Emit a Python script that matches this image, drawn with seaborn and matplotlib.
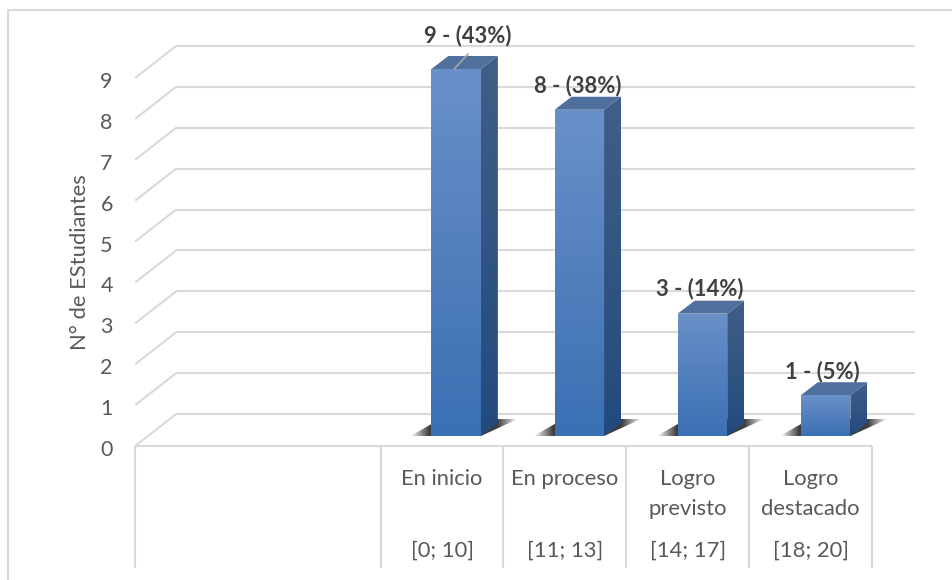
import numpy as np
import matplotlib
matplotlib.use("Agg")
import matplotlib.pyplot as plt
from matplotlib.colors import LinearSegmentedColormap, to_rgb
from matplotlib.lines import Line2D
from matplotlib.patches import Polygon
from matplotlib.transforms import Affine2D
import pandas as pd
import seaborn as sns

# ---- data ----
slots = ["a", "b", "En inicio", "En proceso", "Logro\nprevisto", "Logro\ndestacado"]
values = [np.nan, np.nan, 9, 8, 3, 1]
percents = [None, None, 43, 38, 14, 5]
ranges = ["", "", "[0; 10]", "[11; 13]", "[14; 17]", "[18; 20]"]
y_ticks = list(range(10))
y_label = "N° de EStudiantes"

# ---- layout constants (pixels) ----
W, H = 953, 580
DPI = 100
GRID = "#d9d9d9"
TXT = "#595959"
BOLD = "#404040"
FONT = "Lato"

sns.set_theme(style="white")
plt.rcParams["font.family"] = [FONT, "DejaVu Sans"]


def axes_rect(left, right, bottom, top):
    return [left / W, (H - bottom) / H, (right - left) / W, (bottom - top) / H]


fig = plt.figure(figsize=(W / DPI, H / DPI), dpi=DPI, facecolor="white")

# front plane: floor edge, category table, tick labels
PXF_Y = 40.9
af = fig.add_axes(axes_rect(135, 872, 446, 446 - 10 * PXF_Y), facecolor="none")
af.set_xlim(-0.5, 5.5)
af.set_ylim(0, 10)
for s in af.spines.values():
    s.set_visible(False)
af.set_yticks(y_ticks)
af.set_yticklabels([str(t) for t in y_ticks], fontsize=15.5, color=TXT)
af.tick_params(axis="y", length=0, pad=16)
af.set_xticks(range(6))
af.set_xticklabels(["", ""] + slots[2:], fontsize=15.8, color=TXT, linespacing=1.62,
                   va="top")
af.tick_params(axis="x", length=0, pad=16.5)
for lab in af.get_yticklabels():
    lab.set_va("center")
    lab.set_transform(lab.get_transform() + Affine2D().translate(0, -4))
af.set_ylabel(y_label, fontsize=15.8, color=TXT, va="center")
af.yaxis.set_label_coords((80 - 135) / 737, (446 - 262) / (10 * PXF_Y))

cell_drop = 122 / PXF_Y
af.plot([-0.5, 5.5], [0, 0], color=GRID, lw=1.5, clip_on=False, solid_capstyle="butt")
for edge in [-0.5, 1.5, 2.5, 3.5, 4.5, 5.5]:
    af.plot([edge, edge], [0, -cell_drop], color=GRID, lw=1.5, clip_on=False,
            solid_capstyle="butt")
for i, r in enumerate(ranges):
    if r:
        af.annotate(r, xy=(i, 0), xytext=(0, -105), textcoords="offset pixels",
                    ha="center", va="center", fontsize=15.8, color=TXT)

# bar plane
PXB_X = 123.17
PXB_Y = 40.78
am = fig.add_axes(axes_rect(148.2, 887.2, 436, 436 - 10 * PXB_Y), facecolor="none")
df = pd.DataFrame({"slot": slots, "value": values})
sns.barplot(data=df, x="slot", y="value", order=slots, ax=am, width=49.5 / PXB_X,
            color="#4a7dbd", saturation=1, linewidth=0, zorder=4)
am.set_xlim(-0.5, 5.5)
am.set_ylim(0, 10)
am.set_xlabel("")
am.set_ylabel("")
am.set_xticks([])
am.set_yticks([])
am.patch.set_visible(False)
for s in am.spines.values():
    s.set_visible(False)

# back wall + side wall grid, expressed relative to the bar plane
bx, by = 28 / PXB_X, 22 / PXB_Y            # bar plane -> back wall
fx, fy = -13 / PXB_X, -10 / PXB_Y           # bar plane -> front edge
for t in y_ticks:
    yb = t * PXF_Y / PXB_Y + by
    yf = t * PXF_Y / PXB_Y + fy
    am.plot([-0.5 + bx, 5.5 + bx], [yb, yb], color=GRID, lw=1.5, clip_on=False,
            zorder=1, solid_capstyle="butt")
    am.plot([-0.5 + fx, -0.5 + bx], [yf, yb], color=GRID, lw=1.5, clip_on=False,
            zorder=1, solid_capstyle="butt")


def vgrad(top, bottom):
    return LinearSegmentedColormap.from_list("g", [bottom, top])


def fill_clipped(ax, poly, cmap, z, extent=None):
    ax.add_patch(poly)
    xs, ys = poly.get_xy()[:, 0], poly.get_xy()[:, 1]
    ext = extent or [xs.min(), xs.max(), ys.min(), ys.max()]
    im = ax.imshow(np.linspace(0, 1, 256).reshape(-1, 1), origin="lower", cmap=cmap,
                   extent=ext, aspect="auto", zorder=z, interpolation="bilinear")
    im.set_clip_path(poly)
    return im


dx, dy = 17 / PXB_X, 13 / PXB_Y
bars = [p for p in am.patches if p.get_height() > 0]
for p in bars:
    x0, x1, h = p.get_x(), p.get_x() + p.get_width(), p.get_height()

    # floor shadow
    sh_l, sh_r = x0 - 21 / PXB_X, x1 + 37 / PXB_X
    sh_h = 17 / PXB_Y
    shadow = Polygon([[sh_l, 0], [x1, 0], [sh_r, sh_h], [x0 + 9 / PXB_X, sh_h]],
                     closed=True, facecolor="none", edgecolor="none")
    am.add_patch(shadow)
    n = 128
    alpha = np.interp(np.linspace(sh_l, sh_r, n),
                      [sh_l, x0 - 2 / PXB_X, x1 + dx, sh_r], [0.0, 0.95, 0.95, 0.0])
    rgba = np.zeros((1, n, 4))
    rgba[..., :3] = to_rgb("#333333")
    rgba[..., 3] = alpha
    im = am.imshow(rgba, extent=[sh_l, sh_r, 0, sh_h], origin="lower", aspect="auto",
                   zorder=2, interpolation="bilinear")
    im.set_clip_path(shadow)

    # side face
    side = Polygon([[x1, 0], [x1 + dx, dy], [x1 + dx, h + dy], [x1, h]], closed=True,
                   facecolor="none", edgecolor="none")
    fill_clipped(am, side, vgrad("#405f88", "#234a7d"), 3,
                 extent=[x1, x1 + dx, 0, h + dy])
    # top face
    top = Polygon([[x0, h], [x1, h], [x1 + dx, h + dy], [x0 + dx, h + dy]], closed=True,
                  facecolor="#4f6f9c", edgecolor="none", zorder=3)
    am.add_patch(top)
    # front face: gradient over the seaborn bar
    p.set_edgecolor("none")
    front = Polygon(p.get_corners(), closed=True, facecolor="none", edgecolor="none")
    fill_clipped(am, front, vgrad("#6a90c8", "#3a70b3"), 5, extent=[x0, x1, 0, h])

am.set_xlim(-0.5, 5.5)
am.set_ylim(0, 10)

# data labels: offset of the label centre from the bar top centre, in pixels
label_dx = [12, -2, -3, -3]
label_dy = [33, 24, 25, 24]
real = [i for i, v in enumerate(values) if not np.isnan(v)]
for k, i in enumerate(real):
    am.annotate(f"{values[i]} - ({percents[i]}%)", xy=(i, values[i]),
                xytext=(label_dx[k], label_dy[k]), textcoords="offset pixels",
                ha="center", va="center", fontsize=15.8, fontweight="bold", color=BOLD,
                zorder=8, annotation_clip=False)
# leader line of the first label
am.annotate("", xy=(2 - 2 / PXB_X, values[2]), xytext=(2 + 12 / PXB_X, values[2] + 15 / PXB_Y),
            arrowprops=dict(arrowstyle="-", color="#a6a6a6", lw=1.2, shrinkA=0, shrinkB=0),
            zorder=8)

# chart frame (open on the right and bottom, as cropped in the reference)
fx0, fy0 = 8 / W, 1 - 10 / H
fig.add_artist(Line2D([fx0, fx0], [0, fy0], color=GRID, lw=1.5))
fig.add_artist(Line2D([fx0, 1], [fy0, fy0], color=GRID, lw=1.5))

fig.savefig("out.png", dpi=DPI)
